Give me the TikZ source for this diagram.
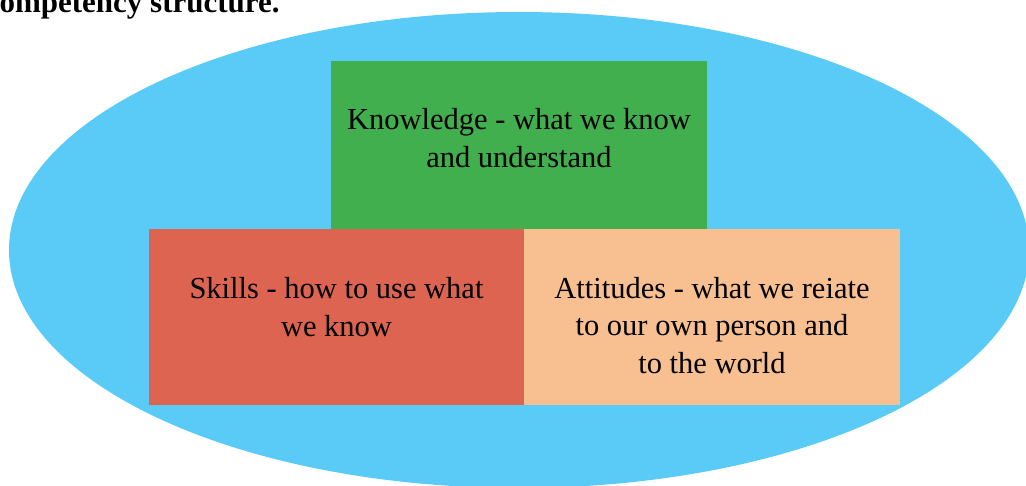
\documentclass[tikz,border=0pt]{standalone}
\usepackage{fontspec}
\setmainfont{Liberation Serif}
\definecolor{skyfill}{HTML}{5ACBF7}
\definecolor{knowfill}{HTML}{41AF4D}
\definecolor{skillfill}{HTML}{DD6450}
\definecolor{attfill}{HTML}{F8C090}
\begin{document}
\begin{tikzpicture}[x=1pt,y=-1pt,
  block/.style={rectangle, inner sep=0pt, outer sep=0pt, draw=none},
  label/.style={inner sep=0pt, align=center, text=black,
    font=\fontsize{30.5}{37.5}\selectfont, anchor=base}]
  \useasboundingbox (0,0) rectangle (1026,485);
  % outer ellipse
  \fill[skyfill] (519,250) ellipse [x radius=510, y radius=238];
  % heading (partly outside the page)
  \node[anchor=base west, inner sep=0pt, font=\fontsize{31}{36}\selectfont\bfseries] (title) at (-23,12) {Competency structure.};
  % the three blocks
  \node[block, fill=knowfill, minimum width=376pt, minimum height=168pt] (know) at (519,145) {};
  \node[block, fill=skillfill, minimum width=375pt, minimum height=176pt] (skill) at (336.5,317) {};
  \node[block, fill=attfill, minimum width=376pt, minimum height=176pt] (att) at (712,317) {};
  % block texts
  \node[label] (knowtext) at (519,167) {Knowledge - what we know\\and understand};
  \node[label] (skilltext) at (336.5,336) {Skills - how to use what\\we know};
  \node[label] (atttext) at (712,373) {Attitudes - what we reiate\\to our own person and\\to the world};
\end{tikzpicture}
\end{document}
